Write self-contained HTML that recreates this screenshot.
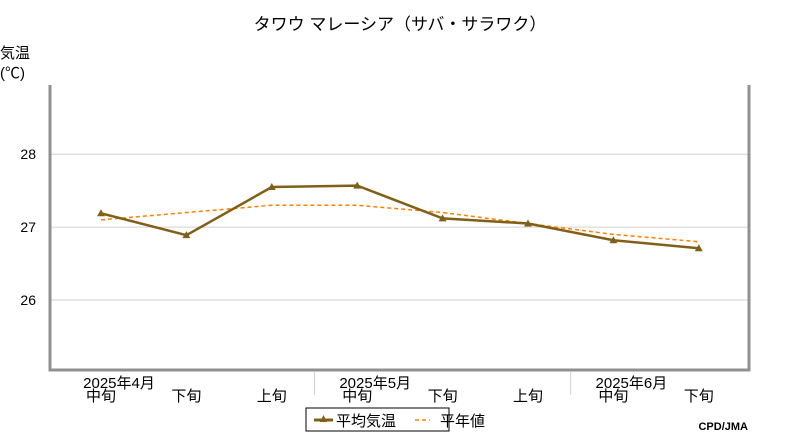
<!DOCTYPE html>
<html><head><meta charset="utf-8"><style>
body{margin:0;background:#fff;width:800px;height:440px;overflow:hidden}
svg text{font-family:"Liberation Sans","Noto Sans CJK JP",sans-serif;fill:#000}
</style></head><body>
<svg id="c" width="800" height="440">
<text x="400" y="30" font-size="17" text-anchor="middle">タワウ マレーシア（サバ・サラワク）</text>
<text x="0" y="58" font-size="15">気温</text>
<text x="0" y="78" font-size="15">(℃)</text>
<g id="grid"></g>
<g id="ticks"></g>
<rect x="306" y="408" width="143" height="23" fill="#fff" stroke="#000"/>
<line x1="314" y1="420" x2="333" y2="420" stroke="#806018" stroke-width="3"/>
<path d="M323.5 415 L327 422 L320 422 Z" fill="#806018"/>
<text x="336" y="426" font-size="15">平均気温</text>
<line x1="415" y1="420" x2="430" y2="420" stroke="#ff8000" stroke-width="1.5" stroke-dasharray="4,3"/>
<text x="440" y="426" font-size="15">平年値</text>
<text x="748" y="430" font-size="11" text-anchor="end" font-weight="bold">CPD/JMA</text>
</svg>
<script>
const categories=["中旬","下旬","上旬","中旬","下旬","上旬","中旬","下旬"];
const months=["2025年4月","2025年5月","2025年6月"];
const avgTemp=[27.19,26.89,27.55,27.57,27.12,27.05,26.82,26.71];
const normalTemp=[27.1,27.2,27.3,27.3,27.2,27.05,26.9,26.8];
const yTicks=[26,27,28];
const NS="http://www.w3.org/2000/svg";
const svg=document.getElementById('c');
const L=50,R=749,T=85,B=370,yMin=25.04,yMax=28.95;
const X=i=>101+i*85.4;
const Y=v=>B-(v-yMin)/(yMax-yMin)*(B-T);
function mk(t,a,p){const e=document.createElementNS(NS,t);for(const k in a)e.setAttribute(k,a[k]);(p||svg).appendChild(e);return e;}
const g=document.getElementById('grid');
yTicks.forEach(v=>{
 const l=mk('line',{x1:L,x2:R,y1:Y(v),y2:Y(v),stroke:'#d0d0d0'},g);
 
 
 const t=mk('text',{x:36,y:Y(v)+5,'font-size':14,'text-anchor':'end'},g);
 
 
 t.textContent=v;
});
const ax=mk('path',{d:`M${L} ${T} V${B} H${R} V${T}`,fill:'none',stroke:'#909090','stroke-width':3});


[2.5,5.5,8.5].forEach(k=>{const s=mk('line',{x1:X(k-0.0)-85.4/2+42.7-42.7,x2:X(k)-0,y1:372,y2:395,stroke:'#d0d0d0'});s.setAttribute('x1',X(k-0.5)+42.7);s.setAttribute('x2',X(k-0.5)+42.7);
 
 });
categories.forEach((c,i)=>{
 const t=mk('text',{x:X(i),y:401,'font-size':15,'text-anchor':'middle'});
 
 
 t.textContent=c;
});
months.forEach((m,j)=>{
 const t=mk('text',{x:X(j*3),y:388,'font-size':15,'text-anchor':'middle'});
 t.setAttribute('x',X(j*3-0)+18);
 
 
 t.textContent=m;
});
const np=mk('polyline',{points:normalTemp.map((v,i)=>X(i)+','+Y(v)).join(' '),fill:'none',stroke:'#ff8000','stroke-width':1.5,'stroke-dasharray':'4,3'});


const ap=mk('polyline',{points:avgTemp.map((v,i)=>X(i)+','+Y(v)).join(' '),fill:'none',stroke:'#806018','stroke-width':2.5});


avgTemp.forEach((v,i)=>{
 const x=X(i),y=Y(v);
 const m=mk('path',{d:`M${x} ${y-4} L${x+4} ${y+3} L${x-4} ${y+3} Z`,fill:'#806018'});
 
 
});
</script>
</body></html>
